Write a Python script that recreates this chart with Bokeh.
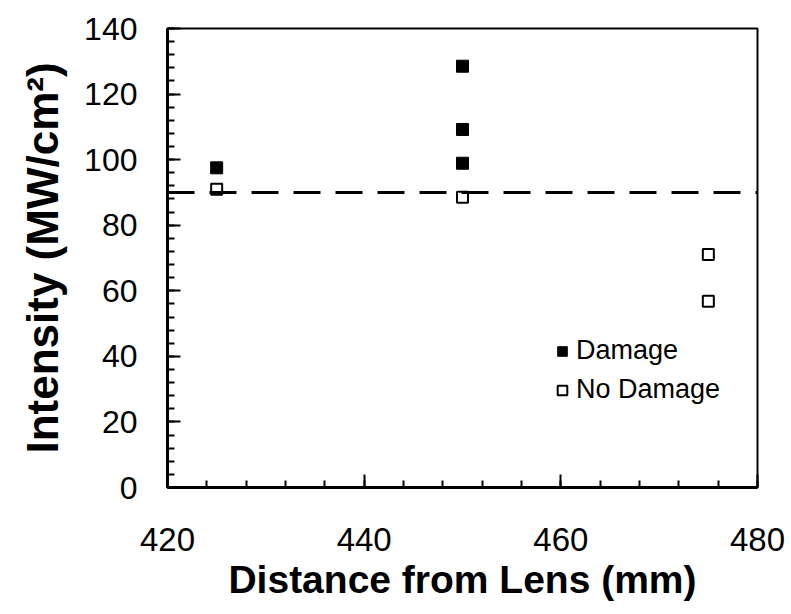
from bokeh.plotting import figure
from bokeh.models import Range1d, Span, Legend, LegendItem, FixedTicker
from bokeh.embed import file_html
from bokeh.resources import INLINE

# ---- data ----
damage_x = [425, 450, 450, 450]
damage_y = [97.5, 128.5, 109.2, 98.9]
nodamage_x = [425, 450, 475, 475]
nodamage_y = [91.0, 88.5, 71.1, 56.8]
threshold = 90
x_ticks = [420, 440, 460, 480]
x_minor = list(range(420, 481, 4))
y_ticks = [0, 20, 40, 60, 80, 100, 120, 140]
y_minor = list(range(0, 141, 4))
series_labels = ["Damage", "No Damage"]
x_title = "Distance from Lens (mm)"
y_title = "Intensity (MW/cm\u00b2)"

FONT = "Liberation Sans"

p = figure(frame_width=590, frame_height=459,
           x_range=Range1d(420, 480), y_range=Range1d(0, 140),
           output_backend="svg", toolbar_location=None,
           min_border_left=167, min_border_right=34,
           min_border_top=28, min_border_bottom=127,
           background_fill_color="white", border_fill_color="white")

p.xgrid.visible = False
p.ygrid.visible = False
p.outline_line_color = "black"
p.outline_line_width = 2

p.xaxis.ticker = FixedTicker(ticks=x_ticks, minor_ticks=x_minor)
p.yaxis.ticker = FixedTicker(ticks=y_ticks, minor_ticks=y_minor)

for ax in (p.xaxis[0], p.yaxis[0]):
    ax.axis_line_width = 3
    ax.axis_line_color = "black"
    ax.major_tick_in = 13
    ax.major_tick_out = 0
    ax.minor_tick_in = 7
    ax.minor_tick_out = 0
    ax.major_tick_line_width = 2
    ax.minor_tick_line_width = 2
    ax.major_tick_line_color = "black"
    ax.minor_tick_line_color = "black"
    ax.major_label_text_font = FONT
    ax.major_label_text_font_size = "33px"
    ax.major_label_text_color = "black"
    ax.axis_label_text_font = FONT
    ax.axis_label_text_font_style = "bold"
    ax.axis_label_text_color = "black"

p.yaxis.major_label_text_font_size = "32px"
p.xaxis.axis_label_text_font_size = "39px"
p.yaxis.axis_label_text_font_size = "44px"

p.xaxis.axis_label = x_title
p.yaxis.axis_label = y_title
p.xaxis.major_label_standoff = 40
p.xaxis.axis_label_standoff = 4
p.yaxis.major_label_standoff = 30
p.yaxis.axis_label_standoff = 14

span = Span(location=threshold, dimension="width", line_color="black",
            line_width=3, line_dash="27 15")
p.add_layout(span)

r1 = p.scatter(damage_x, damage_y, marker="square", size=12,
               fill_color="black", line_color="black", line_width=1)
r2 = p.scatter(nodamage_x, nodamage_y, marker="square", size=11,
               fill_color="white", line_color="black", line_width=2)

legend = Legend(items=[LegendItem(label=series_labels[0], renderers=[r1]),
                       LegendItem(label=series_labels[1], renderers=[r2])],
                location=(383, 82), border_line_color=None,
                background_fill_alpha=0, padding=0, margin=0, spacing=8,
                glyph_width=24, glyph_height=26, label_height=26,
                label_standoff=2, label_text_font=FONT,
                label_text_font_size="27px", label_text_color="black")
p.add_layout(legend)

open("out.html", "w").write(file_html(p, INLINE))
